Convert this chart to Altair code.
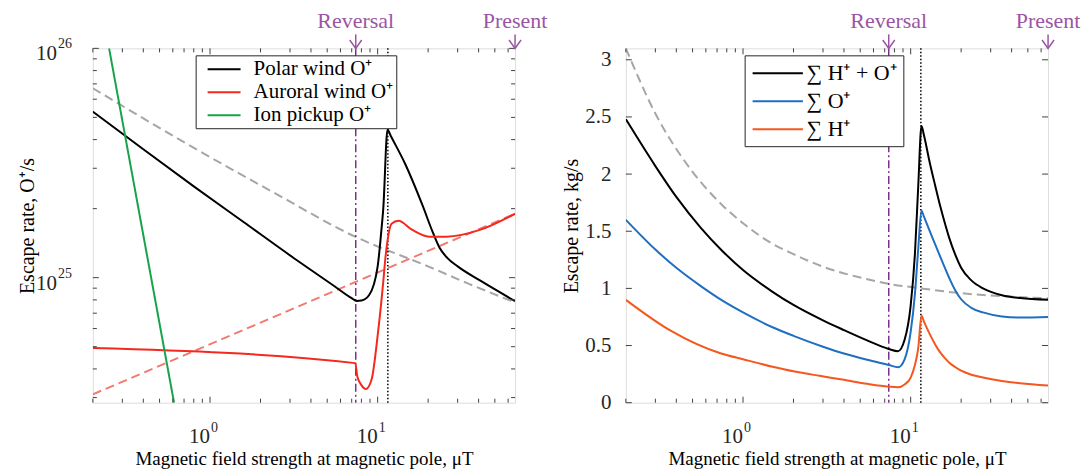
import altair as alt
import pandas as pd

FONT = "Liberation Serif"
PURPLE_TEXT = "#9b55a5"
PURPLE_LINE = "#7e2f8e"
FRAME = "#404040"
LABEL = "#262626"

W, H = 423, 355
X_DOMAIN = [0.2, 66]

# ---------------- Left panel (escape rate, O+/s) ----------------
polar_x = [0.2, 0.4, 0.8, 1.6, 3.2, 5.5, 7.0, 7.5, 8.0, 8.9, 10.0, 10.5, 10.8, 11.45, 11.9, 14.6, 18.5, 21.3, 23.4, 26.0, 30.0, 41.0, 66.0]
polar_y = [5.3e25, 3.63e25, 2.5e25, 1.74e25, 1.21e25, 9.2e24, 8.14e24, 7.92e24, 7.95e24, 8.4e24, 1.12e25, 1.58e25, 2.0e25, 4.43e25, 4.19e25, 3.13e25, 2.07e25, 1.58e25, 1.35e25, 1.22e25, 1.12e25, 9.7e24, 7.9e24]
auroral_x = [0.2, 7.35, 7.57, 8.0, 8.5, 9.2, 10.0, 10.77, 11.1, 11.45, 12.1, 13.3, 16.0, 20.3, 25.7, 41.1, 66.0]
auroral_y = [4.93e24, 4.24e24, 3.7e24, 3.4e24, 3.27e24, 3.6e24, 5.6e24, 9.4e24, 1.2e25, 1.45e25, 1.72e25, 1.77e25, 1.62e25, 1.51e25, 1.51e25, 1.62e25, 1.9e25]
pickup_x = [0.25, 0.61]
pickup_y = [1.0e26, 2.85e24]
grayL_x = [0.2, 0.72, 2.45, 7.33, 20.0, 35.0, 66.0]
grayL_y = [6.7e25, 3.85e25, 2.33e25, 1.51e25, 1.12e25, 9.4e24, 7.8e24]
salmon_x = [0.2, 66.0]
salmon_y = [3.1e24, 1.9e25]
YL_DOMAIN = [2.85e24, 1e26]

# ---------------- Right panel (escape rate, kg/s) ----------------
sum_x = [0.2, 0.3, 0.4, 0.56, 0.75, 1.0, 1.5, 2.0, 3.0, 4.0, 5.5, 7.4, 8.4, 9.2, 10.0, 10.6, 11.1, 11.6, 12.0, 13.0, 14.0, 15.0, 16.0, 17.0, 18.5, 20.0, 23.0, 27.0, 35.0, 45.0, 66.0]
sum_y = [2.48, 2.07, 1.80, 1.53, 1.33, 1.16, 0.97, 0.855, 0.72, 0.635, 0.545, 0.47, 0.45, 0.55, 0.85, 1.30, 1.90, 2.42, 2.34, 2.10, 1.90, 1.72, 1.57, 1.44, 1.29, 1.18, 1.07, 1.0, 0.94, 0.915, 0.90]
oxy_y = [1.60, 1.34, 1.18, 1.02, 0.895, 0.79, 0.66, 0.585, 0.49, 0.43, 0.375, 0.33, 0.31, 0.38, 0.62, 0.95, 1.35, 1.68, 1.627, 1.50, 1.386, 1.278, 1.18, 1.09, 0.98, 0.905, 0.83, 0.79, 0.755, 0.745, 0.75]
hyd_x = [0.2, 0.37, 0.74, 1.0, 1.5, 2.0, 2.86, 4.0, 5.5, 7.4, 8.4, 9.2, 10.0, 10.6, 11.1, 11.6, 12.0, 13.0, 14.0, 15.0, 16.0, 17.0, 18.5, 20.0, 23.0, 27.0, 35.0, 45.0, 66.0]
hyd_y = [0.90, 0.63, 0.43, 0.38, 0.315, 0.275, 0.235, 0.20, 0.165, 0.14, 0.135, 0.16, 0.22, 0.33, 0.48, 0.76, 0.71, 0.60, 0.51, 0.44, 0.39, 0.35, 0.31, 0.28, 0.245, 0.22, 0.19, 0.17, 0.15]
grayR_x = [0.2, 0.3, 0.5, 0.75, 1.0, 1.5, 2.0, 3.0, 5.0, 7.4, 11.6, 20.0, 35.0, 66.0]
grayR_y = [3.10, 2.53, 2.02, 1.73, 1.57, 1.39, 1.30, 1.19, 1.095, 1.04, 1.00, 0.958, 0.932, 0.913]
YR_DOMAIN = [0, 3.1]

# ---------------- Shared annotations / ticks ----------------
reversal_x = [7.4]
dotted_x = [11.5]
annot_x = [7.4, 66.0]
annot_text = ["Reversal", "Present"]

x_major = [1, 10]
x_minor = [0.2, 0.3, 0.4, 0.5, 0.6, 0.7, 0.8, 0.9, 2, 3, 4, 5, 6, 7, 8, 9, 20, 30, 40, 50, 60]
x_lab_vals = [1, 10]
x_lab_exp = ["0", "1"]
yl_major = [1e25, 1e26]
yl_minor = [3e24, 4e24, 5e24, 6e24, 7e24, 8e24, 9e24, 2e25, 3e25, 4e25, 5e25, 6e25, 7e25, 8e25, 9e25]
yl_lab_vals = [1e25, 1e26]
yl_lab_exp = ["25", "26"]
yr_major = [0, 0.5, 1, 1.5, 2, 2.5, 3]

LEFT_NAMES = ["Polar wind O⁺", "Auroral wind O⁺", "Ion pickup O⁺"]
LEFT_COLORS = ["#000000", "#f5281e", "#17a34a"]
RIGHT_NAMES = ["∑ H⁺ + O⁺", "∑ O⁺", "∑ H⁺"]
RIGHT_COLORS = ["#000000", "#1f6fc1", "#f4581f"]

XTITLE = "Magnetic field strength at magnetic pole, μT"


def series_df(pairs):
    rows = []
    for name, xs, ys in pairs:
        for i, (a, b) in enumerate(zip(xs, ys)):
            rows.append({"s": name, "x": a, "y": b, "i": i})
    return pd.DataFrame(rows)


def xy_df(xs, ys):
    return pd.DataFrame({"x": xs, "y": ys, "i": list(range(len(xs)))})


def build_panel(yscale, yaxis, names, colors, solid_pairs, dashed, legend, y_major, y_minor, y_labels):
    xenc = alt.X("x:Q", scale=alt.Scale(type="log", domain=X_DOMAIN, nice=False),
                 axis=alt.Axis(title=XTITLE, labels=False, ticks=False, domain=False, grid=False,
                               titlePadding=47, titleFont=FONT, titleFontSize=19,
                               titleFontWeight="normal", titleColor="black"))
    yenc = alt.Y("y:Q", scale=yscale, axis=yaxis)
    layers = []
    for xs, ys, col in dashed:
        layers.append(alt.Chart(xy_df(xs, ys)).mark_line(clip=True, color=col, strokeWidth=2,
                                                       interpolate="monotone",
                                                       strokeDash=[9, 5]).encode(x=xenc, y=yenc, order="i:Q"))
    layers.append(alt.Chart(pd.DataFrame({"x": reversal_x})).mark_rule(
        color=PURPLE_LINE, strokeWidth=1.5, strokeDash=[8, 3, 2, 3]).encode(x=xenc))
    layers.append(alt.Chart(pd.DataFrame({"x": dotted_x})).mark_rule(
        color="black", strokeWidth=1.5, strokeDash=[1.5, 2]).encode(x=xenc))
    layers.append(alt.Chart(series_df(solid_pairs)).mark_line(clip=True, strokeWidth=2,
                                                            interpolate="monotone").encode(
        x=xenc, y=yenc, order="i:Q",
        color=alt.Color("s:N", scale=alt.Scale(domain=names, range=colors), legend=legend)))
    # inward ticks on all four sides
    for vals, L in [(x_major, 6), (x_minor, 4)]:
        d = pd.DataFrame({"x": vals})
        layers.append(alt.Chart(d).mark_rule(color=FRAME, strokeWidth=1).encode(
            x=xenc, y=alt.value(H - L), y2=alt.value(H)))
        layers.append(alt.Chart(d).mark_rule(color=FRAME, strokeWidth=1).encode(
            x=xenc, y=alt.value(0), y2=alt.value(L)))
    for vals, L in [(y_major, 6), (y_minor, 4)]:
        if not vals:
            continue
        d = pd.DataFrame({"y": vals})
        layers.append(alt.Chart(d).mark_rule(color=FRAME, strokeWidth=1).encode(
            y=yenc, x=alt.value(0), x2=alt.value(L)))
        layers.append(alt.Chart(d).mark_rule(color=FRAME, strokeWidth=1).encode(
            y=yenc, x=alt.value(W - L), x2=alt.value(W)))
    # x tick labels 10^n
    xl = pd.DataFrame({"x": x_lab_vals, "t": ["10", "10"], "e": x_lab_exp})
    layers.append(alt.Chart(xl).mark_text(font=FONT, fontSize=21, align="right", baseline="middle",
                                          color=LABEL, dx=0).encode(x=xenc, y=alt.value(H + 34), text="t:N"))
    layers.append(alt.Chart(xl).mark_text(font=FONT, fontSize=14, align="left", baseline="middle",
                                          color=LABEL, dx=1).encode(x=xenc, y=alt.value(H + 25), text="e:N"))
    if y_labels is not None:
        vals, exps = y_labels
        yl = pd.DataFrame({"y": vals, "t": ["10"] * len(vals), "e": exps})
        layers.append(alt.Chart(yl).mark_text(font=FONT, fontSize=21, align="right", baseline="middle",
                                              color=LABEL, dy=6).encode(x=alt.value(-36), y=yenc, text="t:N"))
        layers.append(alt.Chart(yl).mark_text(font=FONT, fontSize=14, align="left", baseline="middle",
                                              color=LABEL, dy=-4).encode(x=alt.value(-35), y=yenc, text="e:N"))
    # Reversal / Present annotations with arrows
    an = pd.DataFrame({"x": annot_x, "t": annot_text})
    layers.append(alt.Chart(an).mark_text(font=FONT, fontSize=22, color=PURPLE_TEXT, baseline="middle").encode(
        x=xenc, y=alt.value(-27), text="t:N"))
    layers.append(alt.Chart(an).mark_rule(color=PURPLE_TEXT, strokeWidth=1.5).encode(
        x=xenc, y=alt.value(-14), y2=alt.value(0)))
    layers.append(alt.Chart(an).mark_point(shape="M-1,-1.4L0,0L1,-1.4", size=144, filled=False,
                                           color=PURPLE_TEXT, strokeWidth=1.5, opacity=1).encode(
        x=xenc, y=alt.value(0)))
    return alt.layer(*layers).properties(width=W, height=H)


left_axis = alt.Axis(title="Escape rate, O⁺/s", labels=False, ticks=False, domain=False, grid=False,
                     titlePadding=55, titleFont=FONT, titleFontSize=20, titleFontWeight="normal",
                     titleColor="black")
left_legend = alt.Legend(orient="none", legendX=103, legendY=7, title=None,
                         symbolType="M-0.2,0L3.1,0", symbolSize=400, symbolStrokeWidth=2,
                         labelFont=FONT, labelFontSize=21, labelColor="black", labelOffset=33,
                         padding=3, rowPadding=2, strokeColor="#262626", fillColor="white")
left = build_panel(
    alt.Scale(type="log", domain=YL_DOMAIN, nice=False), left_axis, LEFT_NAMES, LEFT_COLORS,
    [(LEFT_NAMES[0], polar_x, polar_y), (LEFT_NAMES[1], auroral_x, auroral_y), (LEFT_NAMES[2], pickup_x, pickup_y)],
    [(grayL_x, grayL_y, "#a6a6a6"), (salmon_x, salmon_y, "#f07a70")],
    left_legend, yl_major, yl_minor, (yl_lab_vals, yl_lab_exp))

right_axis = alt.Axis(title="Escape rate, kg/s", values=yr_major, format="~g", ticks=False, domain=False,
                      grid=False, labelFont=FONT, labelFontSize=21, labelColor=LABEL, labelPadding=15,
                      titlePadding=3, titleFont=FONT, titleFontSize=20, titleFontWeight="normal",
                      titleColor="black")
right_legend = alt.Legend(orient="none", legendX=119, legendY=7, title=None,
                          symbolType="M-0.91,0L3.67,0", symbolSize=484, symbolStrokeWidth=2,
                          labelFont=FONT, labelFontSize=22, labelColor="black", labelOffset=32,
                          padding=6, rowPadding=5, strokeColor="#262626", fillColor="white")
right = build_panel(
    alt.Scale(domain=YR_DOMAIN, nice=False), right_axis, RIGHT_NAMES, RIGHT_COLORS,
    [(RIGHT_NAMES[0], sum_x, sum_y), (RIGHT_NAMES[1], sum_x, oxy_y), (RIGHT_NAMES[2], hyd_x, hyd_y)],
    [(grayR_x, grayR_y, "#a6a6a6")],
    right_legend, yr_major, [], None)

chart = alt.hconcat(left, right, spacing=13).resolve_scale(color="independent").properties(
    padding={"left": 9, "top": 1, "right": 0, "bottom": 0}
).configure_view(stroke=FRAME, strokeWidth=1).configure(background="white")

chart.save("out.html", embed_options={"renderer": "svg", "actions": False})
